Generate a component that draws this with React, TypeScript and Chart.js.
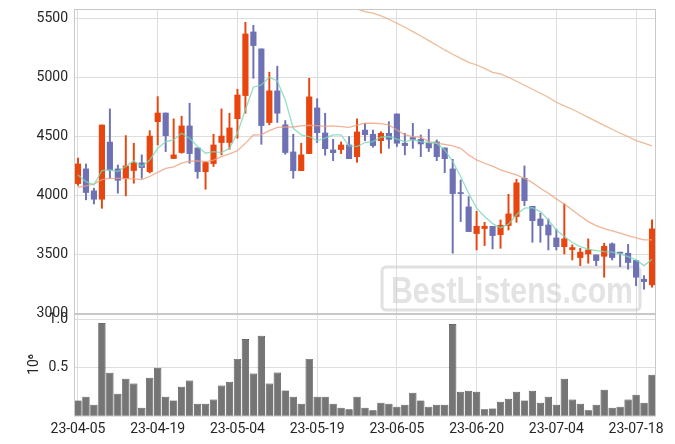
import React, { useEffect, useRef } from 'react';
import { Chart, registerables } from 'chart.js';

Chart.register(...registerables);

const dates = [
  '23-04-05', '23-04-06', '23-04-07', '23-04-10', '23-04-11', '23-04-12', '23-04-13', '23-04-14', '23-04-17', '23-04-18',
  '23-04-19', '23-04-20', '23-04-21', '23-04-24', '23-04-25', '23-04-26', '23-04-27', '23-04-28', '23-05-02', '23-05-03',
  '23-05-04', '23-05-08', '23-05-09', '23-05-10', '23-05-11', '23-05-12', '23-05-15', '23-05-16', '23-05-17', '23-05-18',
  '23-05-19', '23-05-22', '23-05-23', '23-05-24', '23-05-25', '23-05-26', '23-05-30', '23-05-31', '23-06-01', '23-06-02',
  '23-06-05', '23-06-07', '23-06-08', '23-06-09', '23-06-12', '23-06-13', '23-06-14', '23-06-15', '23-06-16', '23-06-19',
  '23-06-20', '23-06-21', '23-06-22', '23-06-23', '23-06-26', '23-06-27', '23-06-28', '23-06-29', '23-06-30', '23-07-03',
  '23-07-04', '23-07-05', '23-07-06', '23-07-07', '23-07-10', '23-07-11', '23-07-12', '23-07-13', '23-07-14', '23-07-17',
  '23-07-18', '23-07-19', '23-07-20',
];

const opens = [
  4100, 4225, 4038, 3967, 4453, 4225, 4145, 4211, 4276, 4201,
  4626, 4700, 4313, 4364, 4590, 4403, 4201, 4270, 4449, 4449,
  4652, 4848, 5389, 5245, 4619, 4888, 4599, 4369, 4210, 4355,
  4743, 4530, 4386, 4389, 4428, 4329, 4555, 4519, 4465, 4527,
  4692, 4443, 4491, 4476, 4443, 4454, 4403, 4225, 4024, 3902,
  3675, 3718, 3737, 3666, 3743, 3820, 4145, 3907, 3799, 3748,
  3638, 3564, 3539, 3471, 3502, 3494, 3482, 3588, 3517, 3508,
  3446, 3287, 3239,
];
const highs = [
  4316, 4267, 4061, 4598, 4735, 4258, 4508, 4443, 4344, 4550,
  4839, 4700, 4650, 4673, 4783, 4403, 4287, 4519, 4735, 4698,
  4902, 5471, 5445, 5245, 5047, 5098, 4636, 4519, 4443, 4995,
  4822, 4698, 4476, 4454, 4499, 4650, 4612, 4555, 4541, 4626,
  4692, 4527, 4612, 4513, 4561, 4471, 4403, 4307, 4131, 3989,
  3865, 3771, 3737, 3791, 4009, 4137, 4250, 3907, 3848, 3799,
  3712, 3928, 3579, 3550, 3630, 3494, 3593, 3596, 3517, 3584,
  3446, 3318, 3791,
];
const lows = [
  4085, 3962, 3927, 3890, 4145, 4018, 3996, 4103, 4145, 4190,
  4428, 4372, 4313, 4358, 4273, 4145, 4052, 4245, 4344, 4392,
  4485, 4698, 4995, 4434, 4599, 4619, 4349, 4145, 4210, 4355,
  4449, 4341, 4295, 4355, 4312, 4281, 4465, 4409, 4358, 4400,
  4415, 4344, 4400, 4329, 4372, 4295, 4193, 3508, 3777, 3692,
  3536, 3573, 3545, 3550, 3706, 3771, 3913, 3601, 3601, 3536,
  3536, 3502, 3451, 3403, 3423, 3403, 3304, 3451, 3394, 3372,
  3233, 3202, 3219,
];
const closes = [
  4267, 4024, 3967, 4598, 4216, 4128, 4250, 4276, 4236, 4504,
  4700, 4507, 4344, 4590, 4355, 4201, 4279, 4428, 4504, 4573,
  4853, 5372, 5273, 4593, 4888, 4698, 4364, 4210, 4344, 4837,
  4533, 4397, 4363, 4428, 4312, 4539, 4516, 4423, 4527, 4476,
  4443, 4423, 4476, 4437, 4403, 4329, 4312, 4015, 4015, 3692,
  3737, 3737, 3658, 3746, 3842, 4106, 3955, 3785, 3743, 3663,
  3564, 3630, 3556, 3517, 3536, 3446, 3567, 3471, 3508, 3429,
  3304, 3267, 3715,
];

// volume in millions
const volumes = [
  0.162, 0.2, 0.117, 0.966, 0.448, 0.231, 0.386, 0.338, 0.086, 0.397,
  0.5, 0.2, 0.162, 0.303, 0.369, 0.128, 0.128, 0.172, 0.317, 0.355,
  0.593, 0.8, 0.441, 0.834, 0.338, 0.452, 0.266, 0.2, 0.128, 0.593,
  0.2, 0.2, 0.128, 0.086, 0.069, 0.2, 0.086, 0.059, 0.138, 0.128,
  0.097, 0.117, 0.241, 0.162, 0.097, 0.117, 0.117, 0.955, 0.252, 0.262,
  0.252, 0.069, 0.079, 0.148, 0.179, 0.252, 0.162, 0.262, 0.138, 0.2,
  0.117, 0.386, 0.172, 0.128, 0.059, 0.117, 0.272, 0.086, 0.097, 0.172,
  0.221, 0.138, 0.428,
];

const maShort = [
  4174, 4117, 4089, 4211, 4216, 4202, 4245, 4293, 4245, 4301,
  4400, 4457, 4471, 4528, 4485, 4415, 4358, 4372, 4363, 4400,
  4528, 4727, 4919, 4939, 5004, 4972, 4811, 4570, 4514, 4500,
  4466, 4486, 4514, 4514, 4420, 4415, 4449, 4457, 4494, 4500,
  4477, 4457, 4471, 4457, 4449, 4443, 4386, 4287, 4160, 4018,
  3891, 3820, 3760, 3725, 3755, 3835, 3891, 3896, 3862, 3791,
  3706, 3650, 3599, 3565, 3542, 3531, 3522, 3517, 3502, 3480,
  3451, 3403, 3457,
];
const maMid = [
  4069, 4080, 4097, 4134, 4145, 4145, 4142, 4140, 4134, 4160,
  4196, 4230, 4242, 4273, 4290, 4293, 4287, 4300, 4329, 4352,
  4380, 4442, 4513, 4516, 4550, 4578, 4581, 4581, 4590, 4596,
  4593, 4587, 4590, 4584, 4578, 4596, 4613, 4613, 4610, 4599,
  4556, 4514, 4500, 4494, 4457, 4443, 4434, 4420, 4400, 4344,
  4301, 4273, 4248, 4216, 4196, 4174, 4145, 4108, 4060, 4018,
  3970, 3927, 3876, 3825, 3777, 3743, 3718, 3698, 3678, 3658,
  3638, 3621, 3621,
];
const maLong = [
  null, null, null, null, null, null, null, null, null, null,
  null, null, null, null, null, null, null, null, null, null,
  null, null, null, null, null, null, null, null, null, null,
  null, null, null, null, 5615, 5585, 5562, 5548, 5525, 5497,
  5463, 5429, 5392, 5355, 5315, 5276, 5236, 5199, 5165, 5131,
  5108, 5080, 5046, 5032, 5004, 4970, 4936, 4902, 4868, 4834,
  4791, 4760, 4732, 4698, 4663, 4629, 4595, 4562, 4528, 4500,
  4465, 4443, 4420,
];

const priceTicks = [3000, 3500, 4000, 4500, 5000, 5500];
const volumeTicks = [0.5, 1.0];

const UP = '#e8450f';
const DOWN = '#6e72b4';
const GRID = '#dedede';
const FRAME = '#c8c8c8';
const TEXT = '#262626';
const FONT = 'Roboto';

const framePlugin = {
  id: 'frames',
  afterDraw(chart: any) {
    const { ctx, chartArea } = chart;
    const y = chart.scales.y;
    const yv = chart.scales.yv;
    ctx.save();
    ctx.strokeStyle = FRAME;
    ctx.lineWidth = 1;
    ctx.strokeRect(chartArea.left + 0.5, y.top + 0.5, chartArea.right - chartArea.left - 1, y.bottom - y.top);
    ctx.strokeRect(chartArea.left + 0.5, yv.top + 1.5, chartArea.right - chartArea.left - 1, yv.bottom - yv.top - 1.5);
    ctx.restore();
  },
};

const watermarkPlugin = {
  id: 'watermark',
  beforeDatasetsDraw(chart: any) {
    const { ctx, chartArea } = chart;
    const y = chart.scales.y;
    const right = chartArea.right - 16;
    const bottom = y.bottom - 3;
    const w = 258;
    const h = 43;
    const left = right - w;
    const top = bottom - h;
    ctx.save();
    ctx.strokeStyle = 'rgba(200,200,200,0.55)';
    ctx.lineWidth = 3;
    ctx.beginPath();
    (ctx as any).roundRect(left, top, w, h, 4);
    ctx.stroke();
    ctx.font = 'bold 36px "Liberation Sans", Arial, sans-serif';
    ctx.fillStyle = 'rgba(200,200,200,0.5)';
    ctx.textBaseline = 'alphabetic';
    const text = 'BestListens.com';
    const tw = ctx.measureText(text).width;
    const target = 242;
    ctx.translate(left + 9, top + 36);
    ctx.scale(target / tw, 1);
    ctx.fillText(text, 0, 0);
    ctx.restore();
  },
};

const fitVertical = (s: any) => {
  s.width = 74;
  s.paddingTop = 0;
  s.paddingBottom = 0;
};

export default function App() {
  const ref = useRef<HTMLCanvasElement>(null);

  useEffect(() => {
    const canvas = ref.current;
    if (!canvas) return;
    const colors = closes.map((c, i) => (c >= opens[i] ? UP : DOWN));
    const chart = new Chart(canvas, {
      type: 'bar',
      data: {
        labels: dates,
        datasets: [
          {
            type: 'line',
            label: 'MA5',
            data: maShort,
            yAxisID: 'y',
            borderColor: 'rgba(120,215,180,0.8)',
            borderWidth: 1.3,
            pointRadius: 0,
            order: 0,
          } as any,
          {
            type: 'line',
            label: 'MA20',
            data: maMid,
            yAxisID: 'y',
            borderColor: 'rgba(238,160,125,0.8)',
            borderWidth: 1.3,
            pointRadius: 0,
            order: 0,
          } as any,
          {
            type: 'line',
            label: 'MA60',
            data: maLong,
            yAxisID: 'y',
            borderColor: 'rgba(232,170,125,0.8)',
            borderWidth: 1.3,
            pointRadius: 0,
            order: 0,
          } as any,
          {
            label: 'body',
            data: opens.map((o, i) => [o, closes[i]]),
            yAxisID: 'y',
            backgroundColor: colors,
            barThickness: 5.5,
            grouped: false,
            order: 1,
          } as any,
          {
            label: 'wick',
            data: lows.map((l, i) => [l, highs[i]]),
            yAxisID: 'y',
            backgroundColor: colors,
            barThickness: 1.3,
            grouped: false,
            order: 2,
          } as any,
          {
            label: 'volume',
            data: volumes,
            yAxisID: 'yv',
            backgroundColor: 'rgba(110,110,110,0.95)',
            borderColor: 'rgba(40,40,40,0.9)',
            borderWidth: 0.7,
            barPercentage: 0.92,
            categoryPercentage: 1,
            grouped: false,
            order: 3,
          } as any,
        ],
      },
      options: {
        animation: false,
        responsive: false,
        devicePixelRatio: 1,
        layout: { padding: { top: 9, right: 19, bottom: 0, left: 0 } },
        plugins: {
          legend: { display: false },
          tooltip: { enabled: false },
        },
        scales: {
          yv: {
            type: 'linear',
            position: 'left',
            stack: 'panels',
            stackWeight: 103,
            min: 0,
            max: 1.07,
            afterBuildTicks: (s: any) => {
              s.ticks = volumeTicks.map((v) => ({ value: v }));
            },
            afterFit: fitVertical,
            grid: { color: GRID, drawTicks: false },
            border: { display: false },
            ticks: {
              padding: 6,
              color: TEXT,
              font: { family: FONT, size: 14 },
              callback: (v: any) => Number(v).toFixed(1),
            },
            title: {
              display: true,
              text: '10⁶',
              color: TEXT,
              font: { family: FONT, size: 14 },
              padding: { top: 26, bottom: 0 },
            },
          },
          y: {
            type: 'linear',
            position: 'left',
            stack: 'panels',
            stackWeight: 304,
            min: 3000,
            max: 5584,
            afterBuildTicks: (s: any) => {
              s.ticks = priceTicks.map((v) => ({ value: v }));
            },
            afterFit: fitVertical,
            grid: { color: GRID, drawTicks: false },
            border: { display: false },
            ticks: {
              padding: 6,
              color: TEXT,
              font: { family: FONT, size: 14 },
              callback: (v: any) => String(v),
            },
          },
          x: {
            type: 'category',
            offset: true,
            afterBuildTicks: (s: any) => {
              s.ticks = s.ticks.filter((t: any) => t.value % 10 === 0);
            },
            afterFit: (s: any) => {
              s.height = 28;
              s.paddingLeft = 0;
              s.paddingRight = 0;
            },
            grid: { color: GRID, drawTicks: false, offset: false },
            border: { display: false },
            ticks: {
              autoSkip: false,
              maxRotation: 0,
              padding: 5,
              color: TEXT,
              font: { family: FONT, size: 14 },
            },
          },
        },
      } as any,
      plugins: [framePlugin, watermarkPlugin],
    });
    return () => chart.destroy();
  }, []);

  return (
    <div style={{ position: 'fixed', left: 0, top: 0, width: 675, height: 444, background: '#fff' }}>
      <canvas ref={ref} width={675} height={444} style={{ width: 675, height: 444 }} />
    </div>
  );
}
